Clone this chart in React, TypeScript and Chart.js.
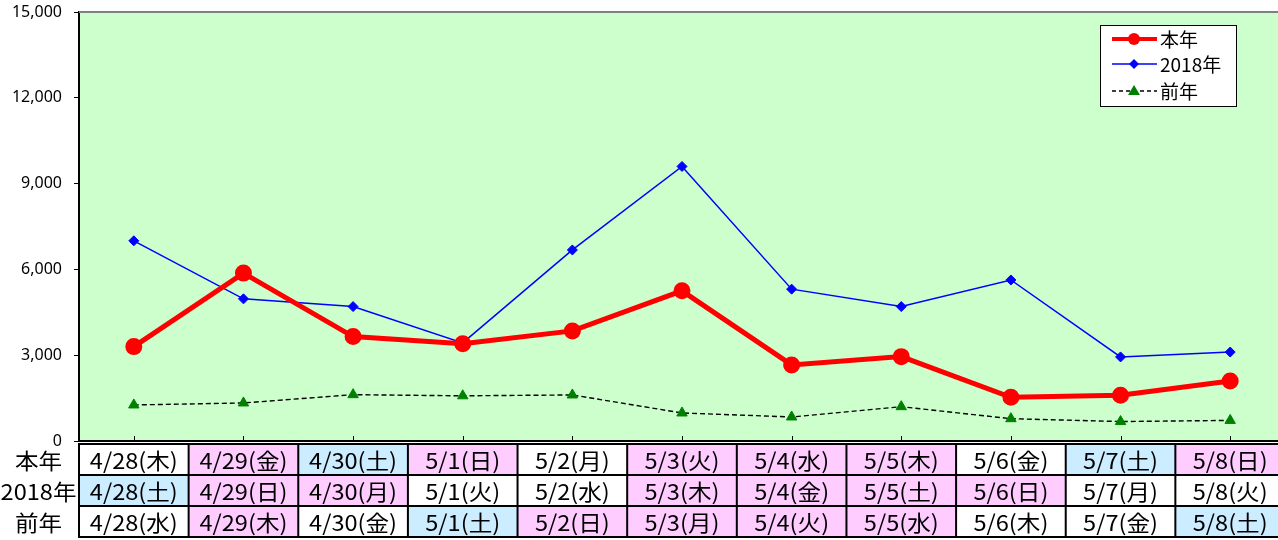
import React, { useEffect, useRef } from 'react';
import { Chart, registerables } from 'chart.js';

Chart.register(...registerables);

const categories = ['4/28', '4/29', '4/30', '5/1', '5/2', '5/3', '5/4', '5/5', '5/6', '5/7', '5/8'];
const seriesNames = ['本年', '2018年', '前年'];
const thisYear = [3300, 5870, 3650, 3400, 3850, 5250, 2660, 2950, 1530, 1600, 2100];
const year2018 = [7000, 4970, 4700, 3430, 6680, 9600, 5310, 4700, 5630, 2940, 3110];
const lastYear = [1260, 1330, 1620, 1580, 1610, 980, 840, 1200, 780, 680, 720];
const yTicks = [0, 3000, 6000, 9000, 12000, 15000];

const rowLabels = ['本年', '2018年', '前年'];
const thisYearDays = ['木', '金', '土', '日', '月', '火', '水', '木', '金', '土', '日'];
const year2018Days = ['土', '日', '月', '火', '水', '木', '金', '土', '日', '月', '火'];
const lastYearDays = ['水', '木', '金', '土', '日', '月', '火', '水', '木', '金', '土'];
// day kind: w = weekday, h = Sunday / holiday, s = Saturday
const thisYearKind = ['w', 'h', 's', 'h', 'w', 'h', 'h', 'h', 'w', 's', 'h'];
const year2018Kind = ['s', 'h', 'h', 'w', 'w', 'h', 'h', 'h', 'h', 'w', 'w'];
const lastYearKind = ['w', 'h', 'w', 's', 'h', 'h', 'h', 'h', 'w', 'w', 's'];

const kindColor: Record<string, string> = { w: '#FFFFFF', h: '#FFCCFF', s: '#CCECFF' };
const CJK = '"Noto Sans CJK JP", "Noto Sans", sans-serif';

const customPlugin = {
  id: 'customDecor',
  beforeDraw(chart: any) {
    const { ctx, chartArea: a } = chart;
    ctx.save();
    ctx.fillStyle = '#CCFFCC';
    ctx.fillRect(a.left, a.top, a.right - a.left, a.bottom - a.top);
    ctx.restore();
  },
  afterDraw(chart: any) {
    const { ctx, chartArea: a } = chart;
    const xs = chart.scales.x;
    ctx.save();
    // top & right border
    ctx.strokeStyle = '#808080';
    ctx.lineWidth = 2;
    ctx.beginPath();
    ctx.moveTo(a.left, a.top);
    ctx.lineTo(a.right, a.top);
    ctx.lineTo(a.right, a.bottom);
    ctx.stroke();
    // bottom axis
    ctx.strokeStyle = '#000';
    ctx.lineWidth = 2;
    ctx.beginPath();
    ctx.moveTo(a.left - 1, a.bottom);
    ctx.lineTo(a.right, a.bottom);
    ctx.stroke();
    ctx.lineWidth = 1;
    ctx.beginPath();
    for (let i = 0; i < categories.length; i++) {
      const x = Math.round(xs.getPixelForValue(i)) + 0.5;
      ctx.moveTo(x, a.bottom);
      ctx.lineTo(x, a.bottom - 5);
    }
    ctx.stroke();

    // table
    const colW = (a.right - a.left) / categories.length;
    const rowTop = a.bottom + 3;
    const rowH = 31;
    const rows = [
      { days: thisYearDays, kind: thisYearKind },
      { days: year2018Days, kind: year2018Kind },
      { days: lastYearDays, kind: lastYearKind },
    ];
    ctx.font = `22px ${CJK}`;
    const sx = 88 / ctx.measureText('4/28(木)').width;
    ctx.textAlign = 'center';
    ctx.textBaseline = 'middle';
    rows.forEach((row, r) => {
      const y0 = rowTop + r * rowH;
      for (let i = 0; i < categories.length; i++) {
        const cx = xs.getPixelForValue(i);
        ctx.fillStyle = kindColor[row.kind[i]];
        ctx.fillRect(cx - colW / 2, y0, colW, rowH);
      }
    });
    ctx.strokeStyle = '#000';
    ctx.lineWidth = 2;
    ctx.beginPath();
    for (let r = 0; r <= rows.length; r++) {
      const y = rowTop + r * rowH;
      ctx.moveTo(a.left - 1, y);
      ctx.lineTo(a.right + 2, y);
    }
    for (let i = 0; i <= categories.length; i++) {
      const x = a.left + i * colW;
      ctx.moveTo(x, rowTop);
      ctx.lineTo(x, rowTop + rows.length * rowH);
    }
    ctx.stroke();
    ctx.fillStyle = '#000';
    rows.forEach((row, r) => {
      const cy = rowTop + r * rowH + rowH / 2 + 1;
      const drawText = (t: string, x: number) => {
        ctx.save();
        ctx.translate(x, cy);
        ctx.scale(sx, 1);
        ctx.fillText(t, 0, 0);
        ctx.restore();
      };
      drawText(rowLabels[r], 38.5);
      for (let i = 0; i < categories.length; i++) {
        drawText(`${categories[i]}(${row.days[i]})`, xs.getPixelForValue(i));
      }
    });

    // legend
    const lx = 1100, ly = 25, lw = 136, lh = 81;
    ctx.fillStyle = '#FFFFFF';
    ctx.fillRect(lx, ly, lw, lh);
    ctx.strokeStyle = '#000';
    ctx.lineWidth = 1;
    ctx.strokeRect(lx + 0.5, ly + 0.5, lw, lh);
    const items = [
      { y: 39, color: '#FF0000', width: 4, dash: [] as number[], marker: 'circle', fill: '#FF0000' },
      { y: 64, color: '#0000FF', width: 1.5, dash: [] as number[], marker: 'diamond', fill: '#0000FF' },
      { y: 91, color: '#000000', width: 1.3, dash: [4, 3], marker: 'triangle', fill: '#008000' },
    ];
    items.forEach((it, k) => {
      ctx.strokeStyle = it.color;
      ctx.lineWidth = it.width;
      ctx.setLineDash(it.dash);
      ctx.beginPath();
      ctx.moveTo(1112, it.y);
      ctx.lineTo(1157, it.y);
      ctx.stroke();
      ctx.setLineDash([]);
      ctx.fillStyle = it.fill;
      ctx.beginPath();
      const mx = 1134;
      if (it.marker === 'circle') {
        ctx.arc(mx, it.y, 6, 0, Math.PI * 2);
      } else if (it.marker === 'diamond') {
        ctx.moveTo(mx, it.y - 5);
        ctx.lineTo(mx + 5, it.y);
        ctx.lineTo(mx, it.y + 5);
        ctx.lineTo(mx - 5, it.y);
        ctx.closePath();
      } else {
        ctx.moveTo(mx, it.y - 6);
        ctx.lineTo(mx + 6, it.y + 4);
        ctx.lineTo(mx - 6, it.y + 4);
        ctx.closePath();
      }
      ctx.fill();
      ctx.fillStyle = '#000';
      ctx.font = `19px ${CJK}`;
      ctx.textAlign = 'left';
      ctx.textBaseline = 'middle';
      ctx.fillText(seriesNames[k], 1160, it.y + 1);
    });
    ctx.restore();
  },
};

export default function App() {
  const ref = useRef<HTMLCanvasElement>(null);
  useEffect(() => {
    if (!ref.current) return;
    const chart = new Chart(ref.current, {
      type: 'line',
      data: {
        labels: categories,
        datasets: [
          {
            label: seriesNames[0],
            data: thisYear,
            borderColor: '#FF0000',
            backgroundColor: '#FF0000',
            borderWidth: 5,
            pointStyle: 'circle',
            pointRadius: 7.5,
            pointBorderWidth: 2,
            tension: 0,
            order: 1,
          },
          {
            label: seriesNames[1],
            data: year2018,
            borderColor: '#0000FF',
            backgroundColor: '#0000FF',
            borderWidth: 1.5,
            pointStyle: 'rectRot',
            pointRadius: 5,
            pointBorderWidth: 1,
            tension: 0,
            order: 2,
          },
          {
            label: seriesNames[2],
            data: lastYear,
            borderColor: '#000000',
            backgroundColor: '#008000',
            pointBorderColor: '#008000',
            borderWidth: 1.4,
            borderDash: [5, 3],
            pointStyle: 'triangle',
            pointRadius: 6,
            pointBorderWidth: 1,
            tension: 0,
            order: 3,
          },
        ],
      },
      options: {
        animation: false,
        responsive: false,
        devicePixelRatio: 1,
        layout: { padding: { left: 0, right: 15, top: 12, bottom: 99 } },
        plugins: { legend: { display: false }, tooltip: { enabled: false } },
        scales: {
          x: { type: 'category', display: false, offset: true },
          y: {
            min: 0,
            max: 15000,
            afterBuildTicks: (s: any) => {
              s.ticks = yTicks.map((v) => ({ value: v }));
            },
            afterFit: (s: any) => {
              s.width = 79;
              s.paddingTop = 0;
              s.paddingBottom = 0;
            },
            ticks: {
              color: '#000',
              padding: 12,
              font: { family: '"Noto Sans", sans-serif', size: 16 },
              callback: (v: any) => Number(v).toLocaleString('en-US'),
            },
            grid: { drawOnChartArea: false, drawTicks: true, tickLength: 5, color: '#000' },
            border: { display: true, color: '#000', width: 2 },
          },
        },
      },
      plugins: [customPlugin],
    });
    return () => chart.destroy();
  }, []);
  return (
    <div style={{ position: 'absolute', left: 0, top: 0, width: 1278, height: 540, overflow: 'hidden', background: '#fff' }}>
      <canvas ref={ref} width={1300} height={540} style={{ display: 'block' }} />
    </div>
  );
}
